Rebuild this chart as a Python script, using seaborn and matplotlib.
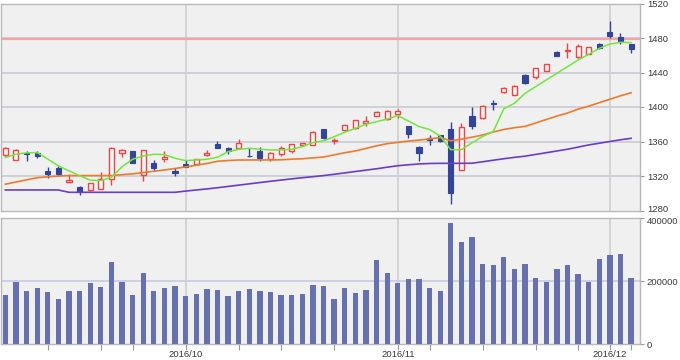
import numpy as np
import pandas as pd
import matplotlib
matplotlib.use("Agg")
import matplotlib.pyplot as plt
import matplotlib.transforms as mtrans
import seaborn as sns

# ---- data ----
dates = pd.bdate_range("2016-09-06", "2016-12-05")
holidays = pd.to_datetime(["2016-09-19", "2016-09-22", "2016-10-10", "2016-11-03", "2016-11-23"])
dates = [d for d in dates if d not in holidays]

opens = [1344, 1339, 1346, 1346.5, 1326, 1329, 1313, 1307, 1304, 1305,
         1317, 1347, 1349, 1321, 1335, 1339.5, 1325.5, 1334, 1334, 1344,
         1357, 1353, 1352, 1343.5, 1349, 1340, 1346, 1349, 1355.5, 1356,
         1374, 1361, 1373, 1375.5, 1381, 1390, 1386, 1392, 1378, 1354,
         1364.5, 1367, 1374, 1327, 1389.5, 1387, 1404.5, 1417, 1414, 1437,
         1435, 1442, 1464, 1465, 1457.5, 1462, 1473, 1487, 1481.5, 1472.5]
highs = [1354, 1351, 1349, 1349, 1330, 1331.5, 1322, 1308.5, 1312, 1325,
         1354, 1351.5, 1349, 1350, 1338, 1348.5, 1329, 1338.5, 1340, 1350,
         1361, 1353.5, 1363, 1353, 1354, 1347.5, 1355, 1357.5, 1358.5, 1372,
         1375, 1364.5, 1379.5, 1385, 1390, 1395, 1396.5, 1397.5, 1378.5, 1355,
         1367.5, 1368, 1383, 1382, 1400, 1402.5, 1408, 1423, 1425, 1438,
         1445.5, 1450, 1464.5, 1474.5, 1473, 1469.5, 1474, 1500, 1485.5, 1473]
lows = [1343, 1338, 1337, 1341, 1317.5, 1320, 1312.5, 1298, 1303, 1304.5,
        1310, 1342, 1334.5, 1314, 1325.5, 1336.5, 1319.5, 1330.5, 1333, 1343.5,
        1352.5, 1346, 1352, 1341.5, 1337.5, 1337.5, 1343, 1347, 1354.5, 1355.5,
        1363, 1357.5, 1372.5, 1375, 1378.5, 1389, 1385.5, 1387.5, 1364, 1337.5,
        1356, 1359, 1288, 1326.5, 1374, 1386.5, 1396.5, 1416.5, 1413.5, 1427,
        1433, 1441.5, 1459, 1456.5, 1457, 1461.5, 1467.5, 1479.5, 1472.5, 1463]
closes = [1353, 1350, 1345.5, 1343.5, 1322, 1322, 1315, 1301, 1312, 1317,
          1353, 1350, 1335, 1350, 1329.5, 1342, 1323, 1331, 1339.5, 1347,
          1353, 1349, 1358, 1343, 1341, 1347, 1352, 1357, 1357.7, 1371.5,
          1364, 1361.5, 1379, 1384.5, 1384, 1394, 1395.5, 1395, 1368.5, 1346.5,
          1361.5, 1361, 1300.5, 1377, 1378, 1401, 1404, 1422.5, 1424.5, 1428,
          1445, 1449.5, 1459.5, 1466, 1471, 1469, 1468.5, 1482, 1477, 1467]
ma_short = [1341.4, 1345.3, 1346.8, 1347.2, 1339.6, 1331.8, 1326, 1320.3, 1315.2, 1314.6,
            1318.6, 1330.8, 1339.4, 1343.2, 1345.2, 1344.8, 1340.6, 1337.8, 1338.6, 1339.4,
            1341.7, 1348.2, 1351, 1352.1, 1351, 1350.2, 1350.2, 1351, 1354, 1358.7,
            1360.8, 1365.5, 1370.7, 1375.3, 1380, 1383, 1386, 1390, 1383.8, 1377.3,
            1374, 1366.3, 1350.5, 1350.5, 1358.5, 1365.8, 1371.5, 1398, 1404.3, 1415.9,
            1423.6, 1431.3, 1439, 1446.7, 1454.5, 1461.1, 1468, 1473, 1475, 1474.6]
ma_mid = [1310.5, 1313, 1315.5, 1318, 1319, 1320, 1320.5, 1320.5, 1320.5, 1320.5,
          1320.5, 1321.5, 1322.5, 1324, 1325.5, 1327, 1328.7, 1330.5, 1332.5, 1334.5,
          1337, 1338, 1338.5, 1338.6, 1338.6, 1338.6, 1338.8, 1339.5, 1340, 1341,
          1342, 1344.5, 1347, 1349, 1352, 1355, 1357.5, 1359, 1360.5, 1361.6,
          1363, 1364.6, 1360.8, 1362.7, 1365, 1367.5, 1371, 1374, 1376, 1377.5,
          1381.5, 1385.5, 1389.5, 1393, 1397.5, 1401, 1405, 1409, 1413, 1416.5]
ma_long = [1303.8, 1303.8, 1303.8, 1303.8, 1303.8, 1303.8, 1301.1, 1301.1, 1301.1, 1301.1,
           1301.1, 1301.1, 1301.1, 1301.1, 1301.1, 1301.1, 1301.1, 1302.5, 1303.8, 1305,
           1306.4, 1307.9, 1309.4, 1310.9, 1312.4, 1313.9, 1315.3, 1316.7, 1318, 1319.2,
           1320.5, 1322, 1323.6, 1325.2, 1326.8, 1328.4, 1330.2, 1331.9, 1333, 1334,
           1334.5, 1334.7, 1334.7, 1334.7, 1334.8, 1336.5, 1338.3, 1340, 1341.6, 1343,
           1345, 1347, 1349, 1351, 1353.5, 1356, 1358, 1360, 1362, 1363.7]
volume = [156000, 196000, 170000, 178000, 164500, 144000, 170000, 170000, 193000, 181500,
          261000, 198000, 156000, 227000, 167500, 178000, 184500, 152500, 158000, 175000,
          172000, 152500, 169500, 175000, 169500, 164500, 156000, 156000, 158000, 187000,
          184500, 144000, 178000, 161500, 173000, 267000, 227000, 193000, 207000, 207000,
          178000, 169500, 385000, 324500, 341500, 255500, 252500, 276000, 238500, 255500,
          210000, 198000, 238500, 252500, 222000, 198000, 270500, 284000, 287000, 210000]
ref_level = 1478.5
price_ticks = [1280, 1320, 1360, 1400, 1440, 1480, 1520]
volume_ticks = [0, 200000, 400000]
month_labels = ["2016/10", "2016/11", "2016/12"]
week_ticks = ["2016-09-12", "2016-09-20", "2016-09-26", "2016-10-03", "2016-10-11",
              "2016-10-17", "2016-10-24", "2016-11-01", "2016-11-07", "2016-11-14",
              "2016-11-21", "2016-11-28", "2016-12-01", "2016-12-05"]

# ---- derived positions ----
idx = np.arange(len(dates))
date_pos = {d.strftime("%Y-%m-%d"): i for i, d in enumerate(dates)}
month_pos = []
for lab in month_labels:
    y, m = lab.split("/")
    month_pos.append(min(i for i, d in enumerate(dates) if d.year == int(y) and d.month == int(m)))
week_pos = [date_pos[w] for w in week_ticks]

o = np.array(opens); c = np.array(closes); h = np.array(highs); l = np.array(lows)
up = c >= o

plt.rcParams["font.family"] = ["Liberation Sans", "DejaVu Sans"]
BG = "#f0f0f0"
TXT = "#3a3a3a"
FRAME = "#b8b8b8"
FS = 6.8
xlim = (-0.41, 59.84)

fig = plt.figure(figsize=(6.8, 3.6), dpi=100)
fig.patch.set_facecolor("white")
ax = fig.add_axes([1/680, 1 - 210.5/360, 639/680, (210.5 - 3.5)/360])
axv = fig.add_axes([1/680, 1 - 344/360, 639/680, (344 - 218.3)/360])

for a in (ax, axv):
    a.set_facecolor(BG)
    for s in a.spines.values():
        s.set_color(FRAME)
        s.set_linewidth(1.0)
    a.set_xlim(*xlim)
    a.yaxis.tick_right()
    a.tick_params(axis="y", length=3, width=0.8, color="#999999", labelcolor=TXT,
                  labelsize=FS, pad=2)
    for p in month_pos:
        a.axvline(p, color="#cfcfcf", lw=1.2, zorder=0.5)

# price panel
ax.set_ylim(1280, 1520)
for t in price_ticks[1:-1]:
    ax.axhline(t, color="#cbcdd8", lw=1.3, zorder=0.6)
ax.axhline(ref_level, color="#f2a5a5", lw=1.6, zorder=0.7)

col_up = "#ee4444"
col_dn = "#34449a"
ax.vlines(idx[up], l[up], h[up], color=col_up, lw=1.0, zorder=2)
ax.vlines(idx[~up], l[~up], h[~up], color=col_dn, lw=1.0, zorder=2)
body_lo = np.minimum(o, c)
body_h = np.maximum(np.abs(c - o), 0.7)
ax.bar(idx[up], body_h[up], bottom=body_lo[up], width=0.48, facecolor="#f7f7f7",
       edgecolor=col_up, linewidth=1.0, zorder=3)
ax.bar(idx[~up], body_h[~up], bottom=body_lo[~up], width=0.48, facecolor=col_dn,
       edgecolor=col_dn, linewidth=0.8, zorder=3)

sns.lineplot(x=idx, y=ma_long, ax=ax, color="#6a3ccc", lw=1.2, zorder=4)
sns.lineplot(x=idx, y=ma_mid, ax=ax, color="#ee7a2a", lw=1.2, zorder=4)
sns.lineplot(x=idx, y=ma_short, ax=ax, color="#70e83a", lw=1.1, zorder=4)

ax.set_yticks(price_ticks)
ax.set_yticklabels([str(t) for t in price_ticks])
ax.set_xticks([])
ax.set_xlabel(""); ax.set_ylabel("")

# volume panel
vdf = pd.DataFrame({"pos": idx, "volume": volume})
sns.barplot(data=vdf, x="pos", y="volume", ax=axv, native_scale=True, width=0.5,
            color="#6670ae", saturation=1, linewidth=0, zorder=3)
axv.set_xlim(*xlim)
axv.set_ylim(0, 400000)
axv.axhline(200000, color="#c6c8e6", lw=1.2, zorder=0.6)
axv.set_yticks(volume_ticks)
axv.set_yticklabels([str(t) for t in volume_ticks])
axv.set_xticks(week_pos)
axv.set_xticklabels([""] * len(week_pos))
axv.tick_params(axis="x", length=4, width=0.8, color="#999999")
for p, lab in zip(month_pos, month_labels):
    axv.text(p, -0.05, lab, transform=axv.get_xaxis_transform(), ha="center", va="top",
             fontsize=FS, color=TXT)
axv.set_xlabel(""); axv.set_ylabel("")

# nudge the two labels that meet at the panel gap apart
lab_low = ax.get_yticklabels()[0]
lab_low.set_transform(lab_low.get_transform() + mtrans.ScaledTranslation(0, 1.5/72, fig.dpi_scale_trans))
lab_top = axv.get_yticklabels()[-1]
lab_top.set_transform(lab_top.get_transform() + mtrans.ScaledTranslation(0, -1.5/72, fig.dpi_scale_trans))

fig.savefig("out.png", dpi=100)
